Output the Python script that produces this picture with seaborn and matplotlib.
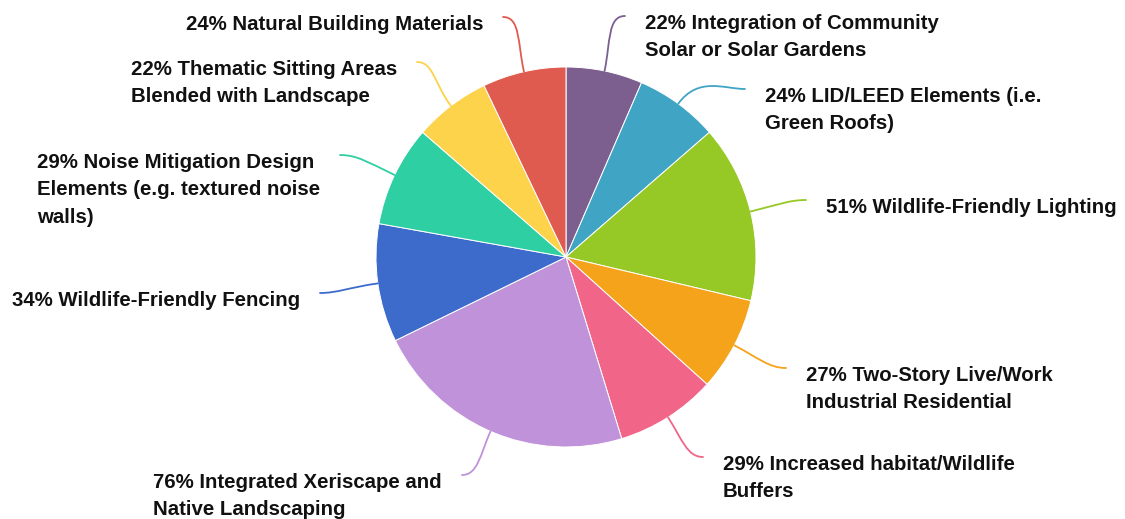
import numpy as np
import matplotlib
matplotlib.use("Agg")
import matplotlib.pyplot as plt
from matplotlib.path import Path
from matplotlib.patches import PathPatch
import seaborn as sns

# ---- data ----
values = [22, 24, 51, 27, 29, 76, 34, 29, 22, 24]
names = [
    "Integration of Community\nSolar or Solar Gardens",
    "LID/LEED Elements (i.e.\nGreen Roofs)",
    "Wildlife-Friendly Lighting",
    "Two-Story Live/Work\nIndustrial Residential",
    "Increased habitat/Wildlife\nBuffers",
    "Integrated Xeriscape and\nNative Landscaping",
    "Wildlife-Friendly Fencing",
    "Noise Mitigation Design\nElements (e.g. textured noise\nwalls)",
    "Thematic Sitting Areas\nBlended with Landscape",
    "Natural Building Materials",
]
colors = ["#7C5F8F", "#40A4C4", "#96C826", "#F5A31B", "#F06588",
          "#C092DA", "#3D6BCB", "#2ECFA3", "#FCD34B", "#DF5B50"]

# ---- layout (pixel coords, origin top-left) ----
W, H = 1125, 519
cx, cy, R = 566, 257, 190
label_ends = [(625, 16), (745, 89), (806, 200), (786, 368), (703, 457),
              (462, 475), (320, 293), (340, 155), (417, 62), (503, 17)]
label_side = ["r", "r", "r", "r", "r", "l", "l", "l", "l", "l"]

sns.set_theme(style="white")
plt.rcParams["font.family"] = ["Liberation Sans", "DejaVu Sans"]

fig = plt.figure(figsize=(W / 100, H / 100), dpi=100)
ax = fig.add_axes([0, 0, 1, 1])

wedges, _ = ax.pie(values, colors=colors, startangle=90, counterclock=False,
                   center=(cx, H - cy), radius=R,
                   wedgeprops=dict(edgecolor="white", linewidth=0.7))

for w, v, n, col, (ex, ey), side in zip(wedges, values, names, colors,
                                         label_ends, label_side):
    mid = np.deg2rad((w.theta1 + w.theta2) / 2)
    dx, dy = np.cos(mid), np.sin(mid)
    p0 = (cx + R * dx, H - cy + R * dy)
    p3 = (ex, H - ey)
    dist = np.hypot(p3[0] - p0[0], p3[1] - p0[1])
    k = dist * 0.5
    p1 = (p0[0] + dx * k, p0[1] + dy * k)
    sgn = 1 if side == "r" else -1
    p2 = (p3[0] - sgn * k * 0.6, p3[1])
    path = Path([p0, p1, p2, p3],
                [Path.MOVETO, Path.CURVE4, Path.CURVE4, Path.CURVE4])
    ax.add_patch(PathPatch(path, facecolor="none", edgecolor=col, lw=1.3,
                           capstyle="round"))
    tx = ex + 20 * sgn
    ax.text(tx, H - (ey - 2), f"{v}% {n}", fontsize=14.7, fontweight="bold",
            color="#111111", ha="left" if side == "r" else "right",
            va="top", multialignment="left", linespacing=1.56)

ax.set_xlim(0, W)
ax.set_ylim(0, H)
ax.set_aspect("equal")
ax.axis("off")
fig.savefig("out.png", dpi=100)
